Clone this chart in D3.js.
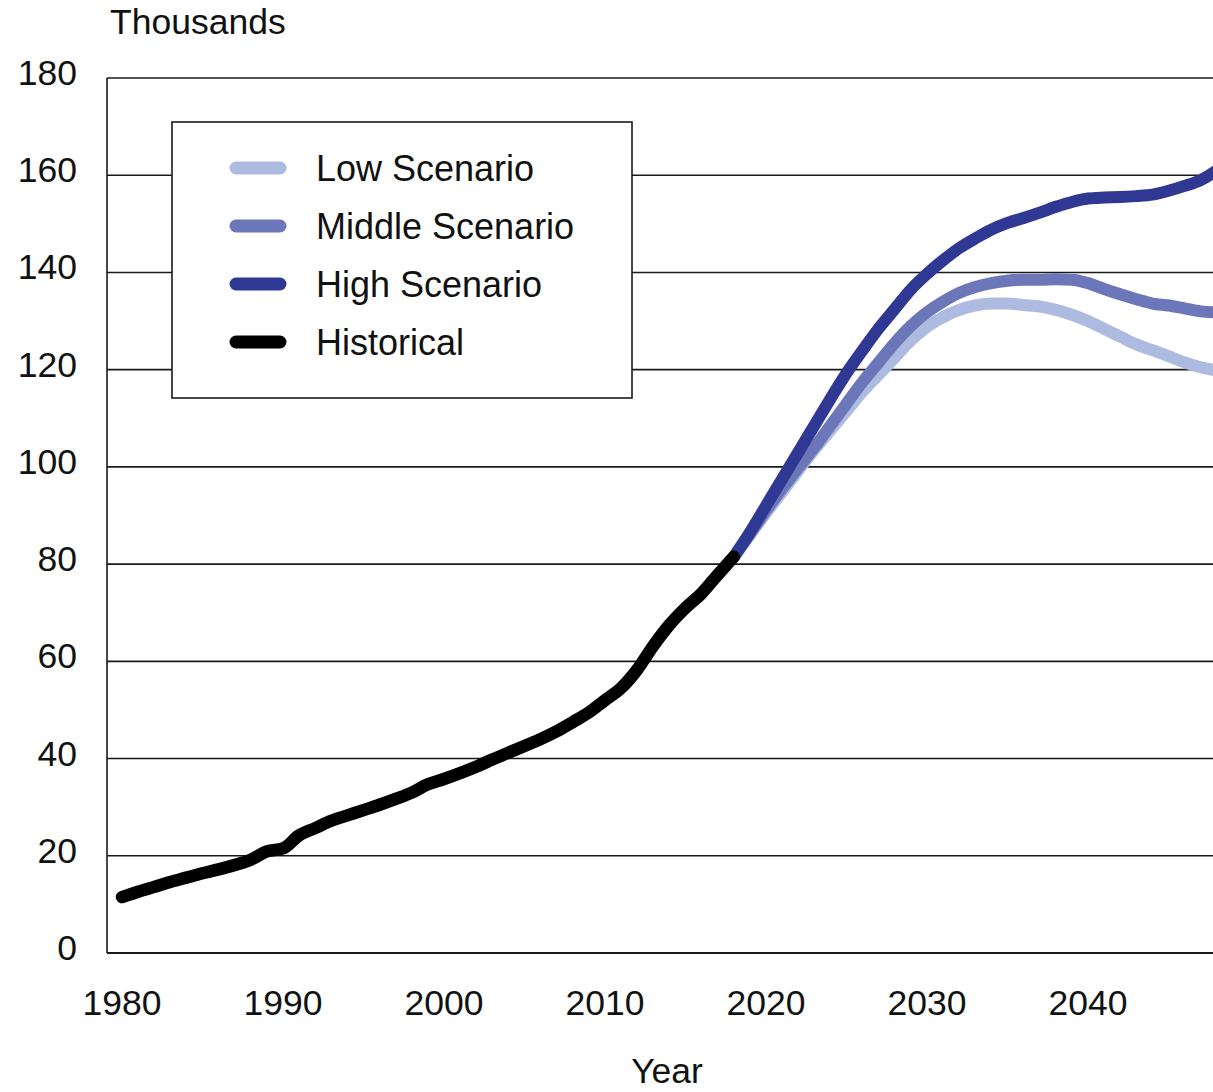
<!DOCTYPE html>
<html>
<head>
<meta charset="utf-8">
<script src="https://cdn.jsdelivr.net/npm/d3@7"></script>
<style>
  html, body { margin: 0; padding: 0; background: #fff; }
  svg { display: block; font-family: Arial, "Liberation Sans", sans-serif; }
</style>
</head>
<body>
<svg id="chart" width="1213" height="1092"></svg>
<script>
// ---------- data ----------
const histYears = [1980,1981,1982,1983,1984,1985,1986,1987,1988,1989,1990,1991,1992,1993,1994,1995,1996,1997,1998,1999,2000,2001,2002,2003,2004,2005,2006,2007,2008,2009,2010,2011,2012,2013,2014,2015,2016,2017,2018];
const histValues = [11.5,12.6,13.6,14.6,15.5,16.4,17.2,18.1,19.2,20.9,21.5,24.2,25.7,27.2,28.3,29.4,30.5,31.7,33.0,34.7,35.8,37.0,38.3,39.8,41.2,42.6,44.0,45.6,47.5,49.5,52.0,54.5,58.3,63.2,67.5,71.0,74.0,77.8,81.5];

const projYears = [2018,2019,2020,2021,2022,2023,2024,2025,2026,2027,2028,2029,2030,2031,2032,2033,2034,2035,2036,2037,2038,2039,2040,2041,2042,2043,2044,2045,2046,2047,2048];
const lowValues = [81.5,86,90.5,94.8,99.2,103.5,107.5,111.5,115.5,119,122.5,126,128.8,130.8,132.3,133.2,133.6,133.6,133.3,133,132.3,131.3,130,128.4,126.8,125.2,124,122.8,121.5,120.5,119.8];
const middleValues = [81.5,86.2,91,95.5,99.8,104,108.5,113,117.5,121.5,125.5,129,131.8,134,135.8,137,137.8,138.3,138.5,138.5,138.6,138.5,137.8,136.6,135.5,134.5,133.6,133.2,132.6,132,131.8];
const highValues = [81.5,86.5,92,97.5,103,108.5,114,119.3,124,128.5,132.5,136.5,139.7,142.5,145,147,148.8,150.2,151.2,152.3,153.5,154.5,155.2,155.4,155.5,155.7,156,156.8,157.8,159,161];

const yTicks = [0,20,40,60,80,100,120,140,160,180];
const xTicks = [1980,1990,2000,2010,2020,2030,2040];

const seriesNames = ["Low Scenario","Middle Scenario","High Scenario","Historical"];
const seriesColors = ["#adbbe0","#6b77b9","#2f3892","#000000"];

// ---------- layout ----------
const svg = d3.select("#chart");
const frameLeft = 107, frameTop = 78, frameBottom = 953;
const x = d3.scaleLinear().domain([1980, 2040]).range([122, 1088]);
const y = d3.scaleLinear().domain([0, 180]).range([frameBottom, frameTop]);
const xEnd = x(2050);

// gridlines
svg.append("g").selectAll("line").data(yTicks).join("line")
  .attr("x1", frameLeft).attr("x2", xEnd)
  .attr("y1", d => y(d)).attr("y2", d => y(d))
  .attr("stroke", "#1a1a1a").attr("stroke-width", 1.6);

// left frame
svg.append("line").attr("x1", frameLeft).attr("x2", frameLeft)
  .attr("y1", frameTop).attr("y2", frameBottom)
  .attr("stroke", "#1a1a1a").attr("stroke-width", 1.6);
// bottom axis slightly heavier
svg.append("line").attr("x1", frameLeft).attr("x2", xEnd)
  .attr("y1", frameBottom).attr("y2", frameBottom)
  .attr("stroke", "#1a1a1a").attr("stroke-width", 2);

// y tick labels
svg.append("g").selectAll("text").data(yTicks).join("text")
  .attr("x", 77).attr("y", d => y(d) - 5)
  .attr("text-anchor", "end").attr("dominant-baseline", "central")
  .attr("font-size", 35.5).attr("fill", "#111")
  .text(d => d);

// x tick labels
svg.append("g").selectAll("text").data(xTicks).join("text")
  .attr("x", d => x(d)).attr("y", 1003)
  .attr("text-anchor", "middle").attr("dominant-baseline", "central")
  .attr("font-size", 35.5).attr("fill", "#111")
  .text(d => d);

// axis titles
svg.append("text").attr("x", 110).attr("y", 22)
  .attr("dominant-baseline", "central").attr("font-size", 35.5).attr("fill", "#111")
  .text("Thousands");
svg.append("text").attr("x", 667).attr("y", 1083)
  .attr("text-anchor", "middle")
  .attr("font-size", 35.5).attr("fill", "#111")
  .text("Year");

// lines
const line = d3.line().x(d => x(d[0])).y(d => y(d[1])).curve(d3.curveMonotoneX);
const plotG = svg.append("g");
const proj = [lowValues, middleValues, highValues];
proj.forEach((vals, i) => {
  plotG.append("path")
    .datum(projYears.map((yr, j) => [yr, vals[j]]))
    .attr("d", line).attr("fill", "none")
    .attr("stroke", seriesColors[i]).attr("stroke-width", 12)
    .attr("stroke-linejoin", "round").attr("stroke-linecap", "butt");
});
plotG.append("path")
  .datum(histYears.map((yr, j) => [yr, histValues[j]]))
  .attr("d", line).attr("fill", "none")
  .attr("stroke", seriesColors[3]).attr("stroke-width", 12.5)
  .attr("stroke-linejoin", "round").attr("stroke-linecap", "round");

// legend
const lg = svg.append("g");
lg.append("rect").attr("x", 172).attr("y", 122).attr("width", 460).attr("height", 276)
  .attr("fill", "#fff").attr("stroke", "#1a1a1a").attr("stroke-width", 1.6);
seriesNames.forEach((name, i) => {
  const cy = 168 + i * 58;
  lg.append("line").attr("x1", 236).attr("x2", 280).attr("y1", cy).attr("y2", cy)
    .attr("stroke", seriesColors[i]).attr("stroke-width", 13).attr("stroke-linecap", "round");
  lg.append("text").attr("x", 316).attr("y", cy)
    .attr("dominant-baseline", "central").attr("font-size", 36).attr("fill", "#111")
    .text(name);
});
</script>
</body>
</html>
